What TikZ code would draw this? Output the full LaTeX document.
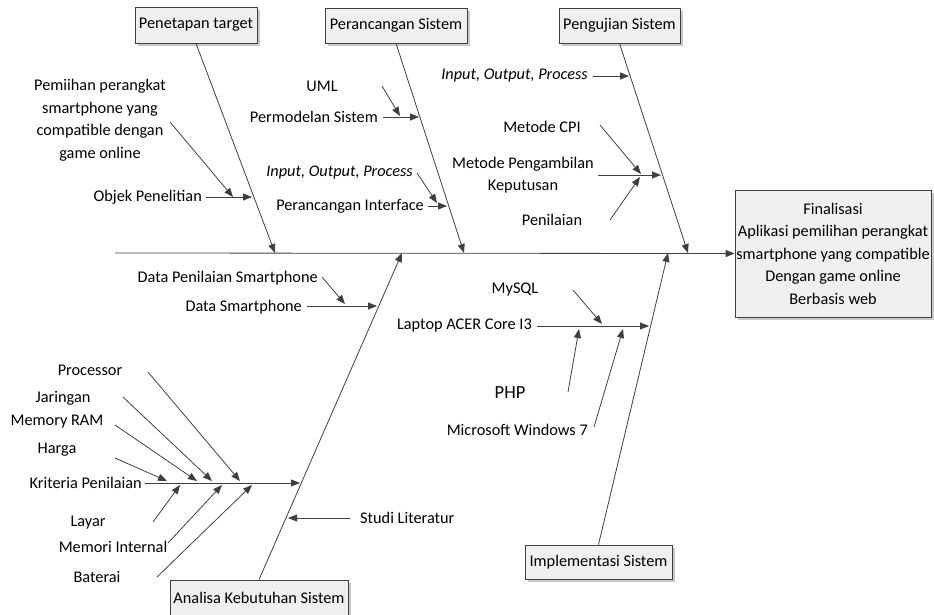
\documentclass[tikz,border=0pt]{standalone}
\usepackage{fontspec}
\setmainfont{Carlito}
\usetikzlibrary{arrows.meta,shadows}
\definecolor{linec}{HTML}{3F3F3F}
\definecolor{boxfill}{HTML}{EFEFEF}
\definecolor{boxline}{HTML}{404040}
\definecolor{shadowc}{HTML}{C8C8C8}
\tikzset{
  ln/.style={draw=linec, line width=0.8pt},
  arr/.style={ln, -{Triangle[length=9pt,width=7pt]}},
  box/.style={draw=boxline, fill=boxfill, line width=0.8pt, inner sep=0pt,
    drop shadow={shadow xshift=2.5pt, shadow yshift=-2.5pt, fill=shadowc, opacity=1}},
  lbl/.style={inner sep=0pt, font=\fontsize{16.3}{22.5}\selectfont, align=center},
  ilbl/.style={lbl, font=\fontsize{16.3}{22.5}\selectfont\itshape},
}
\begin{document}
\begin{tikzpicture}[x=1pt,y=-1pt]
\useasboundingbox (0,0) rectangle (934,614);
% boxes
\node[box, minimum width=122pt, minimum height=36pt, lbl] (pt) at (196,25) {Penetapan target};
\node[box, minimum width=142pt, minimum height=35pt, lbl] (ps) at (396,25.5) {Perancangan Sistem};
\node[box, minimum width=121pt, minimum height=35pt, lbl] (pu) at (619.5,25.5) {Pengujian Sistem};
\node[box, minimum width=196pt, minimum height=127pt, lbl] (fin) at (833,253.5) {Finalisasi\\Aplikasi pemilihan perangkat\\smartphone yang compatible\\Dengan game online\\Berbasis web};
\node[box, minimum width=178pt, minimum height=36pt, lbl] (ak) at (259,598) {Analisa Kebutuhan Sistem};
\node[box, minimum width=147pt, minimum height=34pt, lbl] (im) at (598.5,562) {Implementasi Sistem};
% spine
\coordinate (sp0) at (115,253);
\draw[arr] (sp0) -- (fin.west);
% bones
\coordinate (t1) at (275,253);
\coordinate (t2) at (464,253);
\coordinate (t3) at (688,253);
\coordinate (t4) at (402,253);
\coordinate (t5) at (668,253);
\draw[arr] (pt.south) -- (t1);
\draw[arr] (ps.south) -- (t2);
\draw[arr] (pu.south) -- (t3);
\draw[arr] (ak.north) -- (t4);
\draw[arr] (im.north) -- (t5);
% Penetapan target
\node[lbl] (pem) at (100,120) {Pemiihan perangkat\\smartphone yang\\compatible dengan\\game online};
\node[lbl, anchor=east] (obj) at (202,197) {Objek Penelitian};
\coordinate (a1s) at (170,122); \coordinate (a1t) at (233,197);
\coordinate (a2s) at (206,197); \coordinate (a2t) at (252,197);
\draw[arr] (a1s) -- (a1t);
\draw[arr] (a2s) -- (a2t);
% Perancangan Sistem
\node[lbl] (uml) at (322,86) {UML};
\node[lbl, anchor=east] (pms) at (378,117) {Permodelan Sistem};
\node[ilbl, anchor=east] (iop1) at (413,173) {Input, Output, Process};
\node[lbl, anchor=east] (pif) at (424,206) {Perancangan Interface};
\coordinate (b1s) at (382,86); \coordinate (b1t) at (400,116);
\coordinate (b2s) at (383,117); \coordinate (b2t) at (419,117);
\coordinate (b3s) at (417,173); \coordinate (b3t) at (437,203);
\coordinate (b4s) at (428,206); \coordinate (b4t) at (447,206);
\draw[arr] (b1s) -- (b1t);
\draw[arr] (b2s) -- (b2t);
\draw[arr] (b3s) -- (b3t);
\draw[arr] (b4s) -- (b4t);
% Pengujian Sistem
\node[ilbl, anchor=east] (iop2) at (588,76) {Input, Output, Process};
\node[lbl] (cpi) at (542,127) {Metode CPI};
\node[lbl] (mpk) at (523,175) {Metode Pengambilan\\Keputusan};
\node[lbl] (pen) at (552,220) {Penilaian};
\coordinate (c1s) at (593,76); \coordinate (c1t) at (629,76);
\coordinate (c2s) at (600,125); \coordinate (c2t) at (641,174);
\coordinate (c3s) at (598,175); \coordinate (c3t) at (661,175);
\coordinate (c4s) at (610,220); \coordinate (c4t) at (640,177);
\draw[arr] (c1s) -- (c1t);
\draw[arr] (c2s) -- (c2t);
\draw[arr] (c3s) -- (c3t);
\draw[arr] (c4s) -- (c4t);
% Analisa Kebutuhan Sistem
\node[lbl, anchor=east] (dps) at (318,278) {Data Penilaian Smartphone};
\node[lbl, anchor=east] (dsm) at (302,307) {Data Smartphone};
\node[lbl, anchor=east] (krp) at (142,483) {Kriteria Penilaian};
\node[lbl, anchor=west] (stl) at (360,518) {Studi Literatur};
\coordinate (d1s) at (322,277); \coordinate (d1t) at (345,304);
\coordinate (d2s) at (307,306); \coordinate (d2t) at (377,306);
\coordinate (d3s) at (145,483); \coordinate (d3t) at (300,483);
\coordinate (d4s) at (350,518); \coordinate (d4t) at (288,518);
\draw[arr] (d1s) -- (d1t);
\draw[arr] (d2s) -- (d2t);
\draw[arr] (d3s) -- (d3t);
\draw[arr] (d4s) -- (d4t);
% Kriteria Penilaian sub-causes
\node[lbl] (pro) at (90,370) {Processor};
\node[lbl] (jar) at (63,398) {Jaringan};
\node[lbl] (ram) at (57,422) {Memory RAM};
\node[lbl] (hrg) at (57,450) {Harga};
\node[lbl] (lay) at (88,523) {Layar};
\node[lbl] (mei) at (113,547) {Memori Internal};
\node[lbl] (bat) at (97,577) {Baterai};
\coordinate (e1s) at (148,372); \coordinate (e1t) at (240,481);
\coordinate (e2s) at (123,397); \coordinate (e2t) at (212,481);
\coordinate (e3s) at (115,425); \coordinate (e3t) at (197,481);
\coordinate (e4s) at (115,458); \coordinate (e4t) at (167,481);
\coordinate (e5s) at (153,522); \coordinate (e5t) at (180,485);
\coordinate (e6s) at (168,543); \coordinate (e6t) at (222,485);
\coordinate (e7s) at (157,577); \coordinate (e7t) at (252,485);
\draw[arr] (e1s) -- (e1t);
\draw[arr] (e2s) -- (e2t);
\draw[arr] (e3s) -- (e3t);
\draw[arr] (e4s) -- (e4t);
\draw[arr] (e5s) -- (e5t);
\draw[arr] (e6s) -- (e6t);
\draw[arr] (e7s) -- (e7t);
% Implementasi Sistem
\node[lbl] (sql) at (515,290) {MySQL};
\node[lbl, anchor=east] (lap) at (532,326) {Laptop ACER Core I3};
\node[lbl, font=\fontsize{18.5}{22}\selectfont] (php) at (510,393) {PHP};
\node[lbl, anchor=east] (win) at (588,430) {Microsoft Windows 7};
\coordinate (f1s) at (573,290); \coordinate (f1t) at (602,324);
\coordinate (f2s) at (537,326); \coordinate (f2t) at (649,326);
\coordinate (f3s) at (568,392); \coordinate (f3t) at (579,329);
\coordinate (f4s) at (594,427); \coordinate (f4t) at (623,329);
\draw[arr] (f1s) -- (f1t);
\draw[arr] (f2s) -- (f2t);
\draw[arr] (f3s) -- (f3t);
\draw[arr] (f4s) -- (f4t);
\end{tikzpicture}
\end{document}
